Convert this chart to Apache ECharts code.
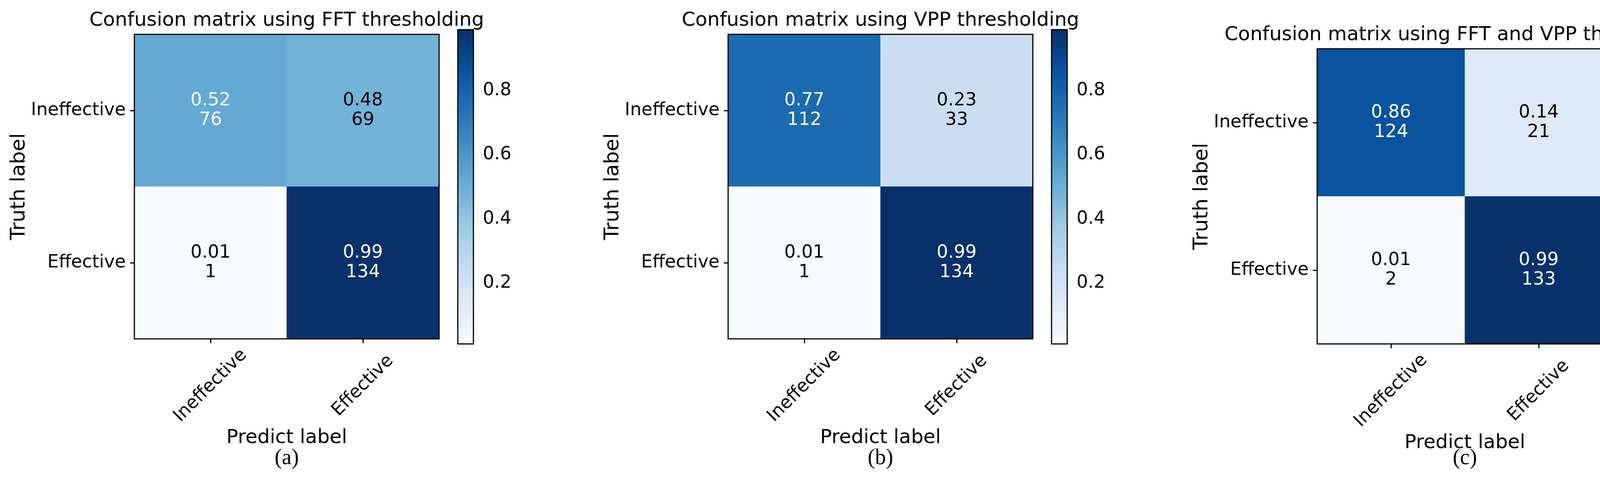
<!DOCTYPE html>
<html>
<head>
<meta charset="utf-8">
<script src="https://cdn.jsdelivr.net/npm/echarts@6/dist/echarts.min.js"></script>
<style>
  html, body { margin: 0; padding: 0; background: #fff; }
  #chart { width: 4360px; height: 1227px; }
</style>
</head>
<body>
<div id="chart"></div>
<script>
const predictLabels = ['Ineffective', 'Effective'];
const truthLabels = ['Effective', 'Ineffective'];   // bottom to top
const titles = [
    'Confusion matrix using FFT thresholding',
    'Confusion matrix using VPP thresholding',
    'Confusion matrix using FFT and VPP thresholding'
];
const captions = ['(a)', '(b)', '(c)'];
// rows: truth Ineffective, truth Effective; cols: predict Ineffective, Effective
const fftRates = [[0.52, 0.48], [0.01, 0.99]];
const fftCounts = [[76, 69], [1, 134]];
const vppRates = [[0.77, 0.23], [0.01, 0.99]];
const vppCounts = [[112, 33], [1, 134]];
const bothRates = [[0.86, 0.14], [0.01, 0.99]];
const bothCounts = [[124, 21], [2, 133]];
const colorbarTicks = [0.2, 0.4, 0.6, 0.8];

const blues = ['#f7fbff', '#deebf7', '#c6dbef', '#9ecae1', '#6baed6', '#4292c6', '#2171b5', '#08519c', '#08306b'];
const font = 'DejaVu Sans';

// layout in pixels
const panels = [
    { rates: fftRates, counts: fftCounts, left: 344, top: 88, size: 780, titleTop: 28, cbLeft: 1172, cbTop: 76, cbH: 805 },
    { rates: vppRates, counts: vppCounts, left: 1864, top: 88, size: 780, titleTop: 28, cbLeft: 2692, cbTop: 76, cbH: 805 },
    { rates: bothRates, counts: bothCounts, left: 3372, top: 125, size: 756, titleTop: 65, cbLeft: 4173, cbTop: 112, cbH: 780 }
];

const option = {
    backgroundColor: '#fff',
    animation: false,
    title: [], grid: [], xAxis: [], yAxis: [], series: [], visualMap: []
};

panels.forEach((p, i) => {
    const cx = p.left + p.size / 2;
    option.title.push({
        text: titles[i], left: cx, top: p.titleTop, textAlign: 'center', padding: 0,
        textStyle: { fontFamily: font, fontSize: 50, fontWeight: 'normal', color: '#000' }
    });
    option.title.push({
        text: captions[i], left: cx, top: 1146, textAlign: 'center', padding: 0,
        textStyle: { fontFamily: 'Liberation Serif', fontSize: 56, fontWeight: 'normal', color: '#000' }
    });

    // heatmap grid
    const g = option.grid.length;
    option.grid.push({
        left: p.left, top: p.top, width: p.size, height: p.size,
        show: true, borderColor: '#000', borderWidth: 3, backgroundColor: 'transparent', z: 5
    });
    option.xAxis.push({
        type: 'category', gridIndex: g, data: predictLabels,
        name: 'Predict label', nameLocation: 'middle', nameGap: 220,
        nameTextStyle: { fontFamily: font, fontSize: 50, color: '#000' },
        axisLine: { show: false },
        axisTick: { show: true, alignWithLabel: true, length: 11, lineStyle: { color: '#000', width: 3 } },
        axisLabel: {
            rotate: 45, margin: 120, align: 'center', verticalAlign: 'middle',
            fontFamily: font, fontSize: 46, color: '#000'
        },
        splitLine: { show: false }
    });
    option.yAxis.push({
        type: 'category', gridIndex: g, data: truthLabels,
        name: 'Truth label', nameLocation: 'middle', nameGap: 268,
        nameTextStyle: { fontFamily: font, fontSize: 52, color: '#000' },
        axisLine: { show: false },
        axisTick: { show: true, alignWithLabel: true, length: 11, lineStyle: { color: '#000', width: 3 } },
        axisLabel: { margin: 22, fontFamily: font, fontSize: 46, color: '#000' },
        splitLine: { show: false }
    });
    const data = [];
    p.rates.forEach((row, r) => {
        row.forEach((v, c) => {
            data.push({
                value: [c, 1 - r, v, p.counts[r][c]],
                label: { color: v > 0.5 ? '#fff' : '#000' }
            });
        });
    });
    const sIdx = option.series.length;
    option.series.push({
        type: 'heatmap', xAxisIndex: g, yAxisIndex: g, data: data, z: 1,
        label: {
            show: true, fontFamily: font, fontSize: 46, lineHeight: 50,
            formatter: d => d.value[2].toFixed(2) + '\n' + d.value[3]
        },
        itemStyle: { borderWidth: 0 },
        emphasis: { disabled: true }
    });

    // colorbar axis
    const cg = option.grid.length;
    option.grid.push({
        left: p.cbLeft, top: p.cbTop, width: 40, height: p.cbH,
        show: true, borderColor: '#000', borderWidth: 3, backgroundColor: 'transparent', z: 5
    });
    option.xAxis.push({ type: 'value', gridIndex: cg, show: false });
    option.yAxis.push({
        type: 'value', gridIndex: cg, position: 'right', min: 0.01, max: 0.99,
        axisLine: { show: false },
        splitLine: { show: false },
        axisTick: { show: true, length: 11, customValues: colorbarTicks, lineStyle: { color: '#000', width: 3 } },
        axisLabel: { margin: 24, fontFamily: font, fontSize: 46, color: '#000', customValues: colorbarTicks, formatter: v => v.toFixed(1) }
    });
    option.visualMap.push({
        type: 'continuous', seriesIndex: sIdx, dimension: 2, min: 0.01, max: 0.99,
        inRange: { color: blues }, calculable: false, text: ['', ''], showLabel: false,
        left: p.cbLeft, top: p.cbTop, itemWidth: 40, itemHeight: p.cbH, padding: 0, z: 1
    });
});

const chart = echarts.init(document.getElementById('chart'));
chart.setOption(option);
</script>
</body>
</html>
